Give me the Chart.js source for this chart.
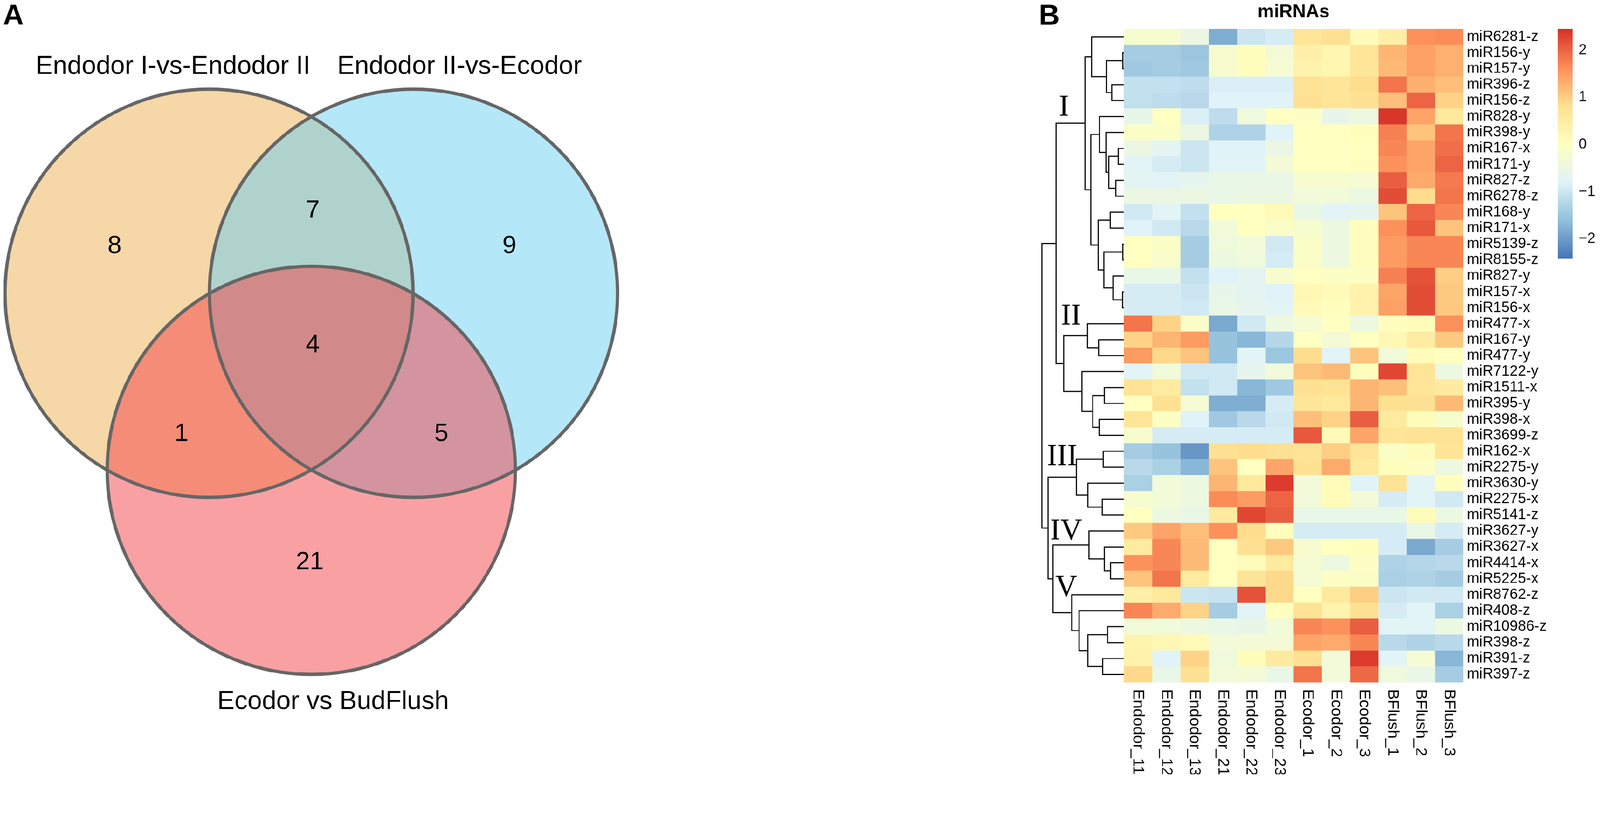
<!DOCTYPE html>
<html>
<head>
<meta charset="utf-8">
<title>Venn e heatmap de miRNAs</title>
<script src="https://cdn.jsdelivr.net/npm/chart.js@4.4.1/dist/chart.umd.min.js"></script>
<style>
	html, body { margin: 0; padding: 0; background: #fff; overflow: hidden; }
	#figura { width: 4328px; height: 2094px; position: absolute; left: 0; top: 0; transform-origin: 0 0; }
	.painel { position: absolute; }
</style>
</head>
<body>
<div id="figura">
	<div class="painel" style="left:0;top:0;width:1750px;height:2094px"><canvas id="venn"></canvas></div>
	<div class="painel" style="left:2800px;top:0;width:240px;height:2094px"><canvas id="dendrograma"></canvas></div>
	<div class="painel" style="left:3040px;top:0;width:1150px;height:2094px"><canvas id="heatmap"></canvas></div>
	<div class="painel" style="left:4200px;top:0;width:128px;height:740px"><canvas id="escala"></canvas></div>
</div>
<script>
var conjuntosVenn = ['Endodor I-vs-Endodor II', 'Endodor II-vs-Ecodor', 'Ecodor vs BudFlush'];
var regioesVenn = ['A', 'B', 'C', 'AB', 'AC', 'BC', 'ABC'];
var contagensVenn = [8, 9, 21, 7, 1, 5, 4];

var titulo = 'miRNAs';
var colunas = ['Endodor_11', 'Endodor_12', 'Endodor_13', 'Endodor_21', 'Endodor_22', 'Endodor_23',
	'Ecodor_1', 'Ecodor_2', 'Ecodor_3', 'BFlush_1', 'BFlush_2', 'BFlush_3'];
var linhas = ['miR6281-z', 'miR156-y', 'miR157-y', 'miR396-z', 'miR156-z', 'miR828-y', 'miR398-y',
	'miR167-x', 'miR171-y', 'miR827-z', 'miR6278-z', 'miR168-y', 'miR171-x', 'miR5139-z', 'miR8155-z',
	'miR827-y', 'miR157-x', 'miR156-x', 'miR477-x', 'miR167-y', 'miR477-y', 'miR7122-y', 'miR1511-x',
	'miR395-y', 'miR398-x', 'miR3699-z', 'miR162-x', 'miR2275-y', 'miR3630-y', 'miR2275-x', 'miR5141-z',
	'miR3627-y', 'miR3627-x', 'miR4414-x', 'miR5225-x', 'miR8762-z', 'miR408-z', 'miR10986-z',
	'miR398-z', 'miR391-z', 'miR397-z'];
var valores = [
	[-0.2, -0.2, -0.5, -1.8, -1.0, -0.9, 0.7, 0.8, 0.15, 0.45, 1.6, 1.65],
	[-1.4, -1.4, -1.5, -0.2, 0.05, -0.3, 0.4, 0.25, 0.7, 1.25, 1.45, 1.3],
	[-1.45, -1.4, -1.45, -0.2, 0.05, -0.25, 0.35, 0.25, 0.7, 1.2, 1.45, 1.3],
	[-1.1, -1.1, -1.15, -0.85, -0.85, -0.85, 0.75, 0.7, 0.85, 1.85, 1.3, 1.15],
	[-1.1, -1.15, -1.2, -0.8, -0.8, -0.8, 0.8, 0.7, 0.8, 1.15, 2.0, 0.95],
	[-0.6, 0.0, -0.85, -1.15, -0.4, 0.0, -0.05, -0.6, -0.45, 2.4, 1.4, 0.6],
	[-0.1, -0.1, -0.5, -1.3, -1.3, -0.8, 0.0, 0.02, 0.05, 1.75, 1.1, 1.85],
	[-0.5, -0.7, -1.0, -0.8, -0.8, -0.5, 0.0, 0.0, 0.02, 1.7, 1.4, 1.9],
	[-0.75, -0.9, -1.0, -0.75, -0.75, -0.3, 0.0, 0.0, 0.03, 1.6, 1.4, 2.0],
	[-0.7, -0.75, -0.65, -0.55, -0.55, -0.55, -0.2, -0.2, -0.25, 2.05, 1.35, 1.8],
	[-0.5, -0.5, -0.5, -0.55, -0.5, -0.5, -0.35, -0.35, -0.45, 2.2, 0.85, 1.85],
	[-0.95, -0.75, -1.1, 0.02, 0.02, 0.15, -0.55, -0.75, -0.65, 1.1, 2.0, 1.7],
	[-0.8, -0.95, -1.2, -0.35, 0.02, -0.1, -0.2, -0.45, 0.05, 1.6, 2.1, 1.1],
	[0.0, -0.1, -1.4, -0.4, -0.35, -0.95, -0.1, -0.45, 0.03, 1.5, 1.7, 1.7],
	[0.0, -0.15, -1.4, -0.45, -0.4, -0.9, -0.1, -0.45, 0.03, 1.5, 1.7, 1.7],
	[-0.55, -0.55, -1.1, -0.8, -0.7, -0.2, 0.0, -0.05, -0.05, 1.75, 2.15, 1.0],
	[-0.9, -0.9, -1.0, -0.6, -0.7, -0.8, 0.2, 0.15, 0.35, 1.4, 2.2, 1.05],
	[-0.9, -0.9, -0.95, -0.55, -0.65, -0.75, 0.15, 0.05, 0.35, 1.45, 2.2, 1.05],
	[1.85, 0.95, -0.1, -1.85, -0.95, -0.45, -0.25, 0.0, -0.45, 0.05, 0.1, 1.6],
	[0.95, 1.25, 1.5, -1.55, -1.7, -1.25, 0.0, -0.3, 0.02, 0.2, 0.5, 1.05],
	[1.5, 0.9, 1.1, -1.55, -0.75, -1.5, 0.85, -0.75, 1.1, -0.35, 0.1, 0.02],
	[-0.75, -0.35, -0.95, -0.95, -0.65, -0.35, 1.1, 1.2, 0.05, 2.25, 0.7, -0.45],
	[0.75, 0.55, -1.1, -0.95, -1.7, -1.45, 0.8, 0.75, 1.25, 1.15, 0.7, 0.55],
	[0.0, 0.8, -0.25, -1.8, -1.8, -0.9, 0.7, 0.6, 1.25, 0.8, 0.8, 1.2],
	[0.7, -0.05, -0.8, -1.45, -1.2, -0.95, 1.15, 0.95, 2.05, 0.55, 0.1, -0.2],
	[-0.2, -0.9, -0.9, -0.9, -0.9, -0.9, 2.1, 0.15, 1.4, 0.7, 0.75, 0.75],
	[-1.4, -1.55, -2.05, 0.8, 0.85, 0.8, 0.75, 1.0, 0.7, -0.1, 0.1, 0.7],
	[-1.2, -1.35, -1.7, 1.1, 0.0, 1.4, 0.8, 1.35, 0.6, 0.05, -0.05, -0.45],
	[-1.35, -0.35, -0.45, 1.25, 0.6, 2.35, -0.35, 0.1, -0.8, 0.75, -0.75, 0.05],
	[-0.2, -0.35, -0.45, 1.65, 1.5, 2.0, -0.35, 0.1, -0.3, -0.9, -0.75, -0.95],
	[0.02, -0.45, -0.55, 0.55, 2.25, 2.05, -0.55, -0.55, -0.55, -0.55, 0.1, -0.45],
	[1.05, 1.4, 1.15, 1.6, 0.85, 0.05, -0.9, -0.9, -0.9, -0.9, -0.55, -0.9],
	[0.55, 1.7, 1.2, 0.0, 0.8, 1.05, -0.2, 0.02, 0.05, -0.9, -1.85, -1.4],
	[1.6, 1.7, 1.2, 0.0, 0.1, 0.55, -0.25, -0.45, -0.05, -1.3, -1.25, -1.2],
	[1.1, 1.85, 0.55, 0.0, 0.7, 0.9, -0.25, -0.05, -0.1, -1.35, -1.3, -1.4],
	[0.4, 0.6, -1.0, -1.05, 2.15, 0.9, 0.02, 0.6, 1.0, -1.0, -0.95, -0.95],
	[1.7, 1.35, 0.95, -1.4, -0.75, 0.02, 0.75, 0.3, 0.8, -0.9, -0.75, -1.35],
	[-0.35, -0.35, -0.45, -0.55, -0.6, -0.35, 1.7, 1.6, 2.05, -0.75, -0.75, -0.45],
	[0.3, 0.2, 0.15, -0.35, -0.3, -0.3, 1.4, 1.35, 1.7, -1.2, -1.3, -1.2],
	[0.35, -0.8, 0.95, -0.4, 0.1, 0.55, 0.8, -0.35, 2.35, -0.75, -0.25, -1.7],
	[0.9, -0.55, 0.8, -0.35, -0.3, -0.55, 1.85, -0.35, 1.95, -0.4, -0.55, -1.4]
];

// agrupamento das linhas no estilo hclust: negativo = folha, positivo = fusao anterior
var fusoes = [
	[-2, -3, 2.7], [-4, -5, 32.7], [1, 2, 47.3], [-1, 3, 87.3], [-8, -9, 15], [-10, -11, 21.7],
	[5, 6, 40.7], [-7, 7, 48.3], [-6, 8, 66], [-12, -13, 36.7], [-14, -15, 2.7], [-17, -18, 3.3],
	[-16, 12, 29.3], [11, 13, 54], [10, 14, 69.3], [9, 15, 89.3], [4, 16, 105], [-20, -21, 68.3],
	[-19, 18, 98.3], [-23, -24, 52.7], [-25, -26, 66.7], [20, 21, 84.3], [-22, 22, 113.3],
	[19, 23, 162.7], [17, 24, 183.3], [-27, -28, 55.7], [-30, -31, 58.3], [-29, 27, 97.3],
	[26, 28, 128.3], [-34, -35, 36], [-33, 30, 52.7], [-32, 31, 94.3], [-38, -39, 44],
	[-40, -41, 57.3], [33, 34, 97.3], [-37, 35, 121], [-36, 36, 141], [32, 37, 191.7],
	[29, 38, 205], [25, 39, 221.7]
];
var grupos = ['I', 'II', 'III', 'IV', 'V'];

var escalaMin = -2.42;
var escalaMax = 2.45;
var marcasEscala = [-2, -1, 0, 1, 2];

var paleta = ['#4575B4', '#91BFDB', '#E0F3F8', '#FFFFBF', '#FEE090', '#FC8D59', '#D73027'];
var coresVenn = ['rgba(237,175,79,0.5)', 'rgba(105,207,241,0.5)', 'rgba(243,65,71,0.5)'];
var fonte = '"Liberation Sans", Arial, Helvetica, sans-serif';

var layoutVenn = {
	centro: {x: 842, y: 953}, lado: 553, raio: 552,
	rotulos: [{x: 468, y: 181}, {x: 1243, y: 181}, {x: 901, y: 1899}],
	numeros: {
		A: {dx: -532, dy: -287}, B: {dx: 536, dy: -287}, C: {dx: -4, dy: 568},
		AB: {dx: 4, dy: -383}, AC: {dx: -351, dy: 221}, BC: {dx: 352, dy: 221}, ABC: {dx: 4, dy: -19}
	}
};
var layoutGrupos = [{h: 162, linha: 5.44}, {h: 143, linha: 18.55}, {h: 167, linha: 27.37},
	{h: 156, linha: 32.03}, {h: 156, linha: 35.58}];
var alturaMaxima = 222;

Chart.defaults.font.family = fonte;
Chart.defaults.color = '#000';

var Figura = Figura || {};

Figura.ajustarJanela = function(){
	var s = Math.min(window.innerWidth / 4328, window.innerHeight / 2094);
	if (s > 0 && Math.abs(s - 1) > 0.002) {
		document.getElementById('figura').style.transform = 'scale(' + s + ')';
	}
};

Figura.corDoValor = function(v){
	var t = (v - escalaMin) / (escalaMax - escalaMin) * (paleta.length - 1);
	t = Math.max(0, Math.min(paleta.length - 1, t));
	var i = Math.min(paleta.length - 2, Math.floor(t));
	var f = t - i;
	var a = hex(paleta[i]), b = hex(paleta[i + 1]);
	return 'rgb(' + [0, 1, 2].map(function(k){ return Math.round(a[k] + (b[k] - a[k]) * f); }).join(',') + ')';

	function hex(c){
		return [parseInt(c.substr(1, 2), 16), parseInt(c.substr(3, 2), 16), parseInt(c.substr(5, 2), 16)];
	}
};

Figura.Venn = (function(){

	function Venn(){
		this.ctx = document.getElementById('venn').getContext('2d');
	}

	Venn.prototype.iniciar = function(){
		var c = layoutVenn.centro, d = layoutVenn.lado / Math.sqrt(3);
		var centros = [210, 330, 90].map(function(ang){
			var r = ang * Math.PI / 180;
			return {x: c.x + d * Math.cos(r), y: c.y + d * Math.sin(r)};
		});

		new Chart(this.ctx, {
			type: 'scatter',
			data: {
				datasets: [{
					data: centros.slice(),
					pointRadius: layoutVenn.raio,
					pointBackgroundColor: 'rgba(0,0,0,0)',
					pointBorderColor: '#666666',
					pointBorderWidth: 9,
					order: 0
				}, {
					data: centros.slice(),
					pointRadius: layoutVenn.raio,
					pointBackgroundColor: coresVenn,
					pointBorderWidth: 0,
					order: 1
				}]
			},
			options: {
				responsive: true,
				maintainAspectRatio: false,
				animation: false,
				events: [],
				layout: {padding: 0, autoPadding: false},
				plugins: {legend: {display: false}, tooltip: {enabled: false}},
				scales: {
					x: {type: 'linear', display: false, min: 0, max: 1750},
					y: {type: 'linear', display: false, min: 0, max: 2094, reverse: true}
				}
			},
			plugins: [textosVenn]
		});
	};

	var textosVenn = {
		id: 'textosVenn',
		afterDraw: function(chart){
			var g = chart.ctx, x = chart.scales.x, y = chart.scales.y, c = layoutVenn.centro;
			g.save();
			g.fillStyle = '#000';
			g.textAlign = 'center';
			g.textBaseline = 'middle';
			g.font = '68px ' + fonte;
			regioesVenn.forEach(function(r, i){
				var p = layoutVenn.numeros[r];
				g.fillText(String(contagensVenn[i]), x.getPixelForValue(c.x + p.dx), y.getPixelForValue(c.y + p.dy));
			});
			g.font = '70px ' + fonte;
			conjuntosVenn.forEach(function(nome, i){
				var p = layoutVenn.rotulos[i];
				g.fillText(nome, x.getPixelForValue(p.x), y.getPixelForValue(p.y));
			});
			g.font = 'bold 78px ' + fonte;
			g.textAlign = 'left';
			g.textBaseline = 'top';
			g.fillText('A', 8, 6);
			g.restore();
		}
	};

	return Venn;

}());

Figura.Dendrograma = (function(){

	function Dendrograma(){
		this.ctx = document.getElementById('dendrograma').getContext('2d');
	}

	Dendrograma.prototype.iniciar = function(){
		new Chart(this.ctx, {
			type: 'scatter',
			data: {
				datasets: [{
					data: montarSegmentos(),
					showLine: true,
					spanGaps: false,
					borderColor: '#000',
					borderWidth: 3,
					pointRadius: 0,
					tension: 0,
					clip: 4,
					borderJoinStyle: 'miter'
				}]
			},
			options: {
				responsive: true,
				maintainAspectRatio: false,
				animation: false,
				events: [],
				layout: {padding: {left: 18, right: 0, top: 78, bottom: 248}, autoPadding: false},
				plugins: {legend: {display: false}, tooltip: {enabled: false}},
				scales: {
					x: {type: 'linear', display: false, min: 0, max: alturaMaxima, reverse: true},
					y: {type: 'linear', display: false, min: 0.5, max: linhas.length + 0.5, reverse: true}
				}
			},
			plugins: [rotulosGrupos]
		});
	};

	function montarSegmentos(){
		var posicao = [], altura = [], pontos = [];

		function no(k){
			return k < 0 ? {y: -k, h: 0} : {y: posicao[k], h: altura[k]};
		}

		fusoes.forEach(function(f, i){
			var a = no(f[0]), b = no(f[1]);
			pontos.push({x: a.h, y: a.y}, {x: f[2], y: a.y}, {x: f[2], y: b.y}, {x: b.h, y: b.y}, {x: null, y: null});
			posicao[i + 1] = (a.y + b.y) / 2;
			altura[i + 1] = f[2];
		});
		return pontos;
	}

	var rotulosGrupos = {
		id: 'rotulosGrupos',
		afterDraw: function(chart){
			var g = chart.ctx, x = chart.scales.x, y = chart.scales.y;
			g.save();
			g.fillStyle = '#000';
			g.textAlign = 'center';
			g.textBaseline = 'middle';
			g.font = '82px "Liberation Serif", "Times New Roman", serif';
			grupos.forEach(function(nome, i){
				var p = layoutGrupos[i];
				g.fillText(nome, x.getPixelForValue(p.h), y.getPixelForValue(p.linha));
			});
			g.font = 'bold 78px ' + fonte;
			g.textAlign = 'left';
			g.textBaseline = 'top';
			g.fillText('B', 10, 6);
			g.restore();
		}
	};

	return Dendrograma;

}());

Figura.Heatmap = (function(){

	function Heatmap(){
		this.ctx = document.getElementById('heatmap').getContext('2d');
	}

	Heatmap.prototype.iniciar = function(){
		new Chart(this.ctx, {
			type: 'bar',
			data: {
				labels: linhas,
				datasets: colunas.map(function(nome, j){
					return {
						label: nome,
						data: linhas.map(function(){ return 1; }),
						backgroundColor: valores.map(function(l){ return Figura.corDoValor(l[j]); }),
						borderWidth: 0,
						barPercentage: 1,
						categoryPercentage: 1
					};
				})
			},
			options: {
				indexAxis: 'y',
				responsive: true,
				maintainAspectRatio: false,
				animation: false,
				events: [],
				layout: {padding: {top: 78, bottom: 248, left: 0, right: 0}},
				plugins: {legend: {display: false}, tooltip: {enabled: false}},
				scales: {
					x: {stacked: true, display: false, min: 0, max: colunas.length},
					y: {
						stacked: true,
						position: 'right',
						grid: {display: false, drawTicks: false},
						border: {display: false},
						ticks: {color: '#000', padding: 10, autoSkip: false, font: {size: 40, lineHeight: 1}},
						afterFit: function(s){ s.width = 232; }
					}
				}
			},
			plugins: [rotulosColunas]
		});
	};

	var rotulosColunas = {
		id: 'rotulosColunas',
		afterDraw: function(chart){
			var g = chart.ctx, x = chart.scales.x, area = chart.chartArea;
			g.save();
			g.fillStyle = '#000';
			g.font = '43px ' + fonte;
			g.textAlign = 'left';
			g.textBaseline = 'middle';
			colunas.forEach(function(nome, j){
				g.save();
				g.translate(x.getPixelForValue(j + 0.5), area.bottom + 18);
				g.rotate(Math.PI / 2);
				g.fillText(nome, 0, 0);
				g.restore();
			});
			g.font = 'bold 50px ' + fonte;
			g.textAlign = 'center';
			g.fillText(titulo, (area.left + area.right) / 2, 33);
			g.restore();
		}
	};

	return Heatmap;

}());

Figura.Escala = (function(){

	function Escala(){
		this.ctx = document.getElementById('escala').getContext('2d');
	}

	Escala.prototype.iniciar = function(){
		new Chart(this.ctx, {
			type: 'bar',
			data: {
				labels: ['escala'],
				datasets: [{
					data: [[escalaMin, escalaMax]],
					backgroundColor: gradiente,
					borderWidth: 0,
					barPercentage: 1,
					categoryPercentage: 1
				}]
			},
			options: {
				responsive: true,
				maintainAspectRatio: false,
				animation: false,
				events: [],
				layout: {padding: {left: 14, top: 78, bottom: 33, right: 0}},
				plugins: {legend: {display: false}, tooltip: {enabled: false}},
				scales: {
					x: {display: false},
					y: {
						position: 'right',
						min: escalaMin,
						max: escalaMax,
						grid: {display: false, drawTicks: false},
						border: {display: false},
						afterBuildTicks: function(s){
							s.ticks = marcasEscala.map(function(v){ return {value: v}; });
						},
						ticks: {
							color: '#111',
							padding: 16,
							font: {size: 40},
							callback: function(v){ return v < 0 ? '\u2212' + Math.abs(v) : String(v); }
						},
						afterFit: function(s){ s.width = 74; }
					}
				}
			}
		});
	};

	function gradiente(ctx){
		var chart = ctx.chart, y = chart.scales.y;
		if (!chart.chartArea || !y) {
			return paleta[3];
		}
		var g = chart.ctx.createLinearGradient(0, y.getPixelForValue(escalaMin), 0, y.getPixelForValue(escalaMax));
		paleta.forEach(function(cor, i){
			g.addColorStop(i / (paleta.length - 1), cor);
		});
		return g;
	}

	return Escala;

}());

(function(){
	Figura.ajustarJanela();
	new Figura.Venn().iniciar();
	new Figura.Dendrograma().iniciar();
	new Figura.Heatmap().iniciar();
	new Figura.Escala().iniciar();
})();
</script>
</body>
</html>
